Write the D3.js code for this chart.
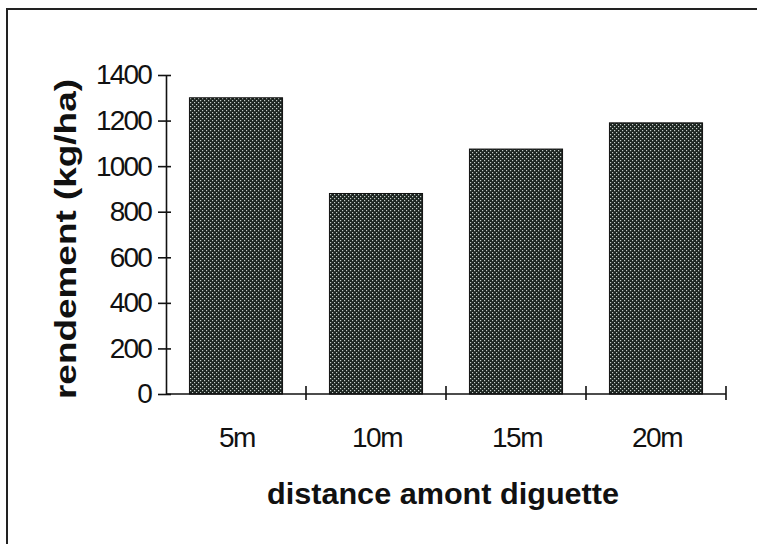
<!DOCTYPE html>
<html>
<head>
<meta charset="utf-8">
<script src="https://cdn.jsdelivr.net/npm/d3@7"></script>
<style>
  html, body { margin: 0; padding: 0; background: #ffffff; }
  svg { display: block; }
</style>
</head>
<body>
<script>
const categories = ["5m", "10m", "15m", "20m"];
const yieldValues = [1300, 880, 1075, 1190];
const yTicks = [0, 200, 400, 600, 800, 1000, 1200, 1400];
const xTitle = "distance amont diguette";
const yTitle = "rendement (kg/ha)";

const W = 757, H = 544;
const svg = d3.select("body").append("svg").attr("width", W).attr("height", H);

// stipple pattern for bars
const defs = svg.append("defs");
const pat = defs.append("pattern").attr("id", "stip").attr("patternUnits", "userSpaceOnUse")
  .attr("width", 4).attr("height", 4);
pat.append("rect").attr("width", 4).attr("height", 4).attr("fill", "#1c2420");
pat.append("rect").attr("x", 0).attr("y", 0).attr("width", 1.2).attr("height", 1.2).attr("fill", "#c4ccc8");
pat.append("rect").attr("x", 2).attr("y", 2).attr("width", 1.2).attr("height", 1.2).attr("fill", "#c4ccc8");

// frame (top and left edges visible)
svg.append("path").attr("d", `M7,${H} L7,9 L${W},9`).attr("fill", "none")
  .attr("stroke", "#222").attr("stroke-width", 2);

const x0 = 166, x1 = 726, yTop = 75, yBot = 394;
const x = d3.scaleBand().domain(categories).range([x0, x1]).paddingInner(0.335).paddingOuter(0.1675);
const y = d3.scaleLinear().domain([0, 1400]).range([yBot, yTop]);

// bars
svg.append("g").selectAll("rect").data(categories).join("rect")
  .attr("x", d => x(d))
  .attr("y", (d, i) => y(yieldValues[i]))
  .attr("width", x.bandwidth())
  .attr("height", (d, i) => y(0) - y(yieldValues[i]))
  .attr("fill", "url(#stip)")
  .attr("stroke", "#111").attr("stroke-width", 1);

const font = "'Liberation Sans', Arial, sans-serif";

// y axis
const yAxis = d3.axisLeft(y).tickValues(yTicks).tickFormat(d3.format("d"))
  .tickSizeInner(8).tickSizeOuter(0).tickPadding(6);
const gy = svg.append("g").attr("transform", `translate(${x0},0)`).call(yAxis);
gy.select(".domain").attr("stroke", "#111").attr("stroke-width", 1.6);
gy.selectAll(".tick line").attr("stroke", "#111").attr("stroke-width", 1.6).attr("x2", 5).attr("x1", -8);
gy.selectAll(".tick text").attr("font-family", font).attr("font-size", 28)
  .attr("letter-spacing", -1.8).attr("fill", "#111").attr("x", -15);

// x axis
const step = x.step();
const xTickPos = d3.range(categories.length + 1).map(i => x0 + i * step);
const gx = svg.append("g");
gx.append("line").attr("x1", x0).attr("x2", x1).attr("y1", yBot).attr("y2", yBot)
  .attr("stroke", "#111").attr("stroke-width", 1.6);
gx.selectAll("line.tk").data(xTickPos.slice(1)).join("line").attr("class", "tk")
  .attr("x1", d => d).attr("x2", d => d).attr("y1", yBot - 8).attr("y2", yBot + 6)
  .attr("stroke", "#111").attr("stroke-width", 1.6);
gx.selectAll("text").data(categories).join("text")
  .attr("x", d => x(d) + x.bandwidth() / 2 + 1)
  .attr("y", 447)
  .attr("text-anchor", "middle")
  .attr("font-family", font).attr("font-size", 28).attr("letter-spacing", -1.5)
  .attr("fill", "#111")
  .text(d => d);

// axis titles
svg.append("text").attr("x", 443).attr("y", 504).attr("text-anchor", "middle")
  .attr("font-family", font).attr("font-weight", "bold").attr("font-size", 29)
  .attr("textLength", 352).attr("lengthAdjust", "spacingAndGlyphs")
  .attr("fill", "#111").text(xTitle);

svg.append("text").attr("transform", "translate(76,239) rotate(-90)").attr("text-anchor", "middle")
  .attr("font-family", font).attr("font-weight", "bold").attr("font-size", 29)
  .attr("textLength", 320).attr("lengthAdjust", "spacingAndGlyphs")
  .attr("fill", "#111").text(yTitle);
</script>
</body>
</html>
